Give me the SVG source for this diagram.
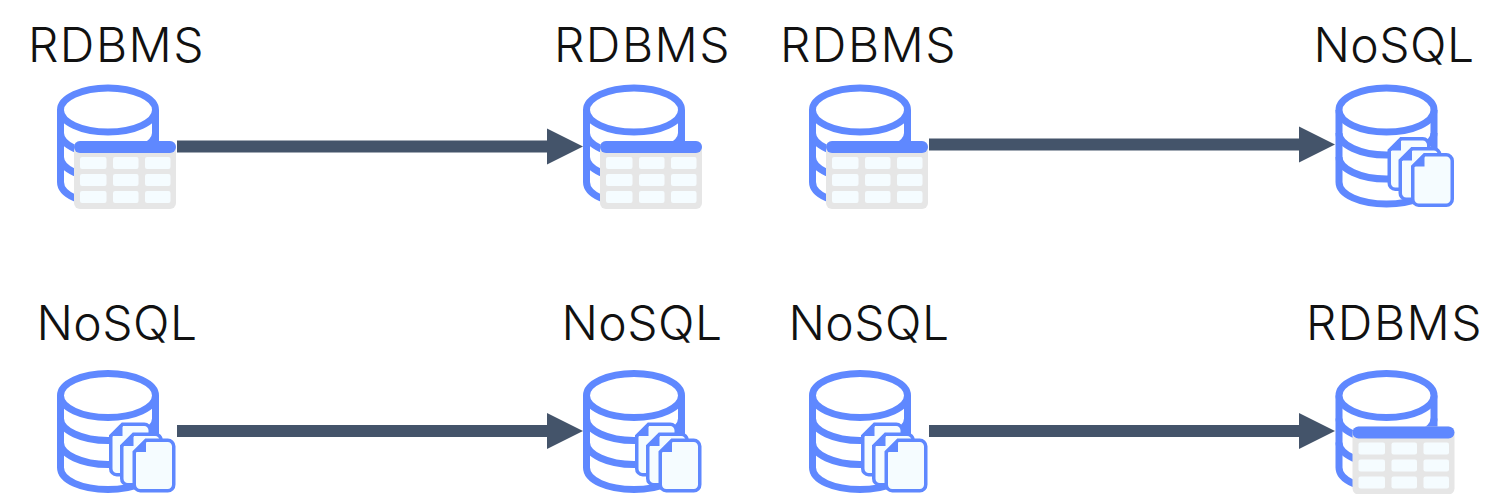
<svg xmlns="http://www.w3.org/2000/svg" width="1510" height="494" viewBox="0 0 1510 494">
<style>
text{font-family:"Inter",sans-serif;font-weight:300;font-size:48px;fill:#111;text-anchor:middle}
.r{letter-spacing:1.500px}
.q{letter-spacing:.5px}
.c{fill:#fff;stroke:#5f88ff;stroke-width:7}
.n{fill:none;stroke:#5f88ff;stroke-width:7}
.d{fill:#f5fcff;stroke:#5f88ff;stroke-width:3.500}
.t{fill:#f5fcff}
.a{fill:none;stroke:#44546a;stroke-width:12}
.h{fill:#44546a}
</style>
<defs>
<g id="cyl">
<path class="c" d="M3.500 26V98C3.500 111 25 120 51 120S98.500 111 98.500 98V26"/>
<ellipse class="c" cx="51" cy="26" rx="47.500" ry="22"/>
<path class="n" d="M3.500 49C3.500 61 25 71 51 71S98.500 61 98.500 49M3.500 73C3.500 85 25 95 51 95S98.500 85 98.500 73"/>
</g>
<g id="tb">
<use href="#cyl"/>
<rect x="17" y="57" width="102" height="68" rx="6" fill="#e6e6e6"/>
<rect x="17" y="57" width="102" height="12" rx="6" fill="#5f88ff"/>
<rect class="t" x="23" y="73" width="26.500" height="12" rx="2"/><rect class="t" x="56" y="73" width="25.500" height="12" rx="2"/><rect class="t" x="88" y="73" width="25.500" height="12" rx="2"/>
<rect class="t" x="23" y="90" width="26.500" height="12" rx="2"/><rect class="t" x="56" y="90" width="25.500" height="12" rx="2"/><rect class="t" x="88" y="90" width="25.500" height="12" rx="2"/>
<rect class="t" x="23" y="107" width="26.500" height="12" rx="2"/><rect class="t" x="56" y="107" width="25.500" height="12" rx="2"/><rect class="t" x="88" y="107" width="25.500" height="12" rx="2"/>
</g>
<path id="doc" class="d" d="M13.500 1.750H35A6 6 0 0 1 41.250 7.750V46A6 6 0 0 1 35 52.250H7.750A6 6 0 0 1 1.750 46V13.500Z"/>
<path id="fold" fill="#5f88ff" d="M13.500 1.750V13.500H1.750Z"/>
<g id="ns">
<use href="#cyl"/>
<g transform="translate(52,53)"><use href="#doc"/><use href="#fold"/></g>
<g transform="translate(63,63)"><use href="#doc"/><use href="#fold"/></g>
<g transform="translate(75.500,69)"><use href="#doc"/><use href="#fold"/></g>
</g>
</defs>
<g id="connectors">
<path class="a" d="M177 146.500H549"/><path class="h" d="M547 128.500L583 146.500L547 164.500Z"/>
<path class="a" d="M929 144.500H1301"/><path class="h" d="M1299 126.500L1335 144.500L1299 162.500Z"/>
<path class="a" d="M177 431H549"/><path class="h" d="M547 413L583 431L547 449Z"/>
<path class="a" d="M929 431H1301"/><path class="h" d="M1299 413L1335 431L1299 449Z"/>
</g>
<g id="n1"><text class="r" x="116.500" y="62">RDBMS</text><use href="#tb" x="57" y="84"/></g>
<g id="n2"><text class="r" x="642.500" y="62">RDBMS</text><use href="#tb" x="583" y="84"/></g>
<g id="n3"><text class="r" x="868.500" y="62">RDBMS</text><use href="#tb" x="809" y="84"/></g>
<g id="n4"><text class="q" x="1394" y="62">NoSQL</text><use href="#ns" x="1335.500" y="84"/></g>
<g id="n5"><text class="q" x="117" y="340">NoSQL</text><use href="#ns" x="57" y="369.500"/></g>
<g id="n6"><text class="q" x="642" y="340">NoSQL</text><use href="#ns" x="583" y="369.500"/></g>
<g id="n7"><text class="q" x="869" y="340">NoSQL</text><use href="#ns" x="809" y="369.500"/></g>
<g id="n8"><text class="r" x="1394.500" y="340">RDBMS</text><use href="#tb" x="1335.500" y="369.500"/></g>
</svg>
